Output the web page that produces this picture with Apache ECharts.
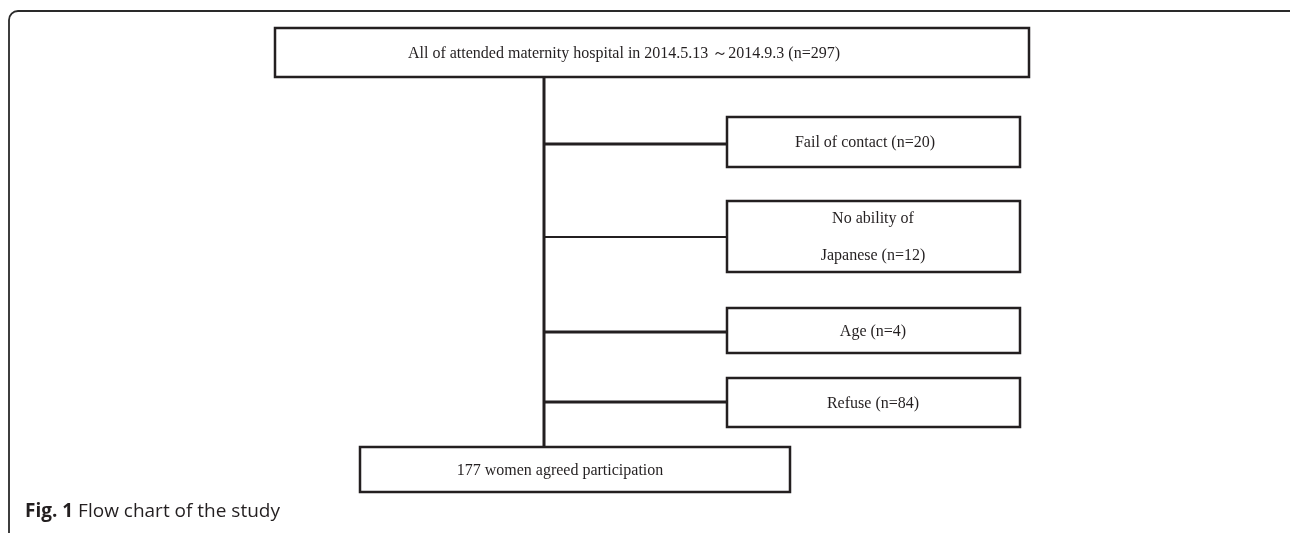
<!DOCTYPE html>
<html>
<head>
<meta charset="utf-8">
<script src="https://cdn.jsdelivr.net/npm/echarts@6/dist/echarts.min.js"></script>
<style>
html,body{margin:0;padding:0;background:#fff;}
#chart{width:1290px;height:533px;}
</style>
</head>
<body>
<div id="chart"></div>
<script>
// ---- Flow chart content ----
const enrolledLabel = "All of attended maternity hospital in 2014.5.13 \uFF5E2014.9.3";
const enrolledCount = 297;
const exclusionReasons = ["Fail of contact", "No ability of\nJapanese", "Age", "Refuse"];
const exclusionCounts = [20, 12, 4, 84];
const finalLabel = "women agreed participation";
const finalCount = 177;
const captionBold = "Fig. 1";
const captionText = " Flow chart of the study";

// ---- Layout (in the hidden pixel-space axes) ----
const W = 1290, H = 533;
const boxLayout = [
  // [left, top, right, bottom, textCenterX]
  [275, 28, 1029, 77, 624],
  [727, 117, 1020, 167, 865],
  [727, 201, 1020, 272, 873],
  [727, 308, 1020, 353, 873],
  [727, 378, 1020, 427, 873],
  [360, 447, 790, 492, 560]
];
const trunkX = 544;
const branchY = [144, 237, 332, 402];
const branchW = [3, 2, 3, 3];

const boxLabels = [enrolledLabel + " (n=" + enrolledCount + ")"]
  .concat(exclusionReasons.map((r, i) => r + " (n=" + exclusionCounts[i] + ")"))
  .concat([finalCount + " " + finalLabel]);

const segments = [[trunkX, boxLayout[0][3], trunkX, boxLayout[5][1], 3]]
  .concat(branchY.map((y, i) => [trunkX, y, boxLayout[1 + i][0], y, branchW[i]]));

const INK = '#231f20';
const chart = echarts.init(document.getElementById('chart'), null, {renderer: 'canvas'});
chart.setOption({
  animation: false,
  backgroundColor: '#fff',
  grid: {left: 0, right: 0, top: 0, bottom: 0},
  xAxis: {type: 'value', min: 0, max: W, show: false},
  yAxis: {type: 'value', min: 0, max: H, inverse: true, show: false},
  title: {
    left: 20, top: 497,
    text: '{b|' + captionBold + '}{r|' + captionText + '}',
    textStyle: {
      fontWeight: 'normal',
      rich: {
        b: {fontFamily: 'Open Sans', fontWeight: 'bold', fontSize: 19, color: '#231f20'},
        r: {fontFamily: 'Open Sans', fontWeight: 'normal', fontSize: 19, color: '#231f20'}
      }
    }
  },
  graphic: [{
    type: 'rect',
    shape: {x: 9, y: 11, width: 1300, height: 600, r: 9},
    style: {fill: 'none', stroke: '#2a2a2a', lineWidth: 1.8},
    z: 0
  }],
  series: [
    {
      type: 'custom',
      coordinateSystem: 'cartesian2d',
      data: segments,
      z: 2,
      renderItem: function (params, api) {
        const p0 = api.coord([api.value(0), api.value(1)]);
        const p1 = api.coord([api.value(2), api.value(3)]);
        return {
          type: 'line',
          shape: {x1: p0[0], y1: p0[1], x2: p1[0], y2: p1[1]},
          style: {stroke: INK, lineWidth: api.value(4)}
        };
      }
    },
    {
      type: 'custom',
      coordinateSystem: 'cartesian2d',
      data: boxLayout.map((b, i) => [b[0], b[1], b[2], b[3], b[4], i]),
      z: 3,
      renderItem: function (params, api) {
        const p0 = api.coord([api.value(0), api.value(1)]);
        const p1 = api.coord([api.value(2), api.value(3)]);
        const tc = api.coord([api.value(4), (api.value(1) + api.value(3)) / 2]);
        const i = api.value(5);
        return {
          type: 'group',
          children: [
            {
              type: 'rect',
              shape: {x: p0[0], y: p0[1], width: p1[0] - p0[0], height: p1[1] - p0[1]},
              style: {fill: '#fff', stroke: INK, lineWidth: 2.5}
            },
            {
              type: 'text',
              style: {
                text: boxLabels[i],
                x: tc[0], y: tc[1] + 1,
                align: 'center', verticalAlign: 'middle',
                fontFamily: 'Liberation Serif', fontSize: 16,
                lineHeight: 37,
                fill: INK
              }
            }
          ]
        };
      }
    }
  ]
});
</script>
</body>
</html>
